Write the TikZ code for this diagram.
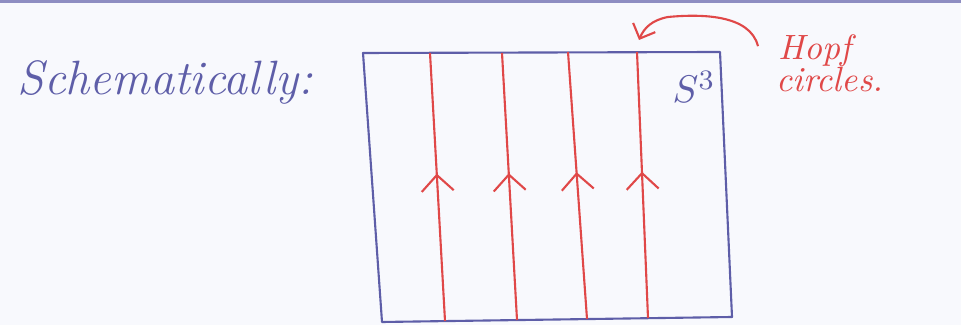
\documentclass[tikz,border=0pt]{standalone}
\usepackage{tikz}
\usetikzlibrary{arrows.meta, decorations.markings}

\definecolor{inkblue}{HTML}{5E5EA8}
\definecolor{inkred}{HTML}{E04848}
\definecolor{paper}{HTML}{F8F9FD}

\begin{document}
\begin{tikzpicture}[
        x=0.01cm, y=-0.01cm,
        sphere/.style={draw=inkblue, line width=0.6pt, line join=round},
        fibre/.style={draw=inkred, line width=0.6pt,
            postaction={decorate},
            decoration={markings, mark=at position 0.55 with {\arrow[inkred, line width=0.6pt]{Straight Barb[length=1.6mm, width=3.2mm]}}}},
        pointer/.style={draw=inkred, line width=0.6pt, -{Straight Barb[length=1.2mm, width=2.4mm]}},
        bluetext/.style={text=inkblue, font=\itshape\fontsize{13.7}{16}\selectfont, inner sep=0pt},
        redtext/.style={text=inkred, font=\itshape\fontsize{10}{12}\selectfont, inner sep=0pt}
    ]
        % Page
        \fill[paper] (0,0) rectangle (961,325);
        \useasboundingbox (0,0) rectangle (961,325);
        \draw[inkblue!70, line width=1pt] (0,1.5) -- (961,1.5);

        % Heading
        \node[bluetext, anchor=base west] (schem) at (17,95) {Schematically:};

        % The box S^3
        \coordinate (tl) at (363,53);
        \coordinate (tr) at (720,52);
        \coordinate (br) at (732,317);
        \coordinate (bl) at (382,322);
        \draw[sphere] (tl) -- (tr) -- (br) -- (bl) -- cycle;
        \node[text=inkblue, font=\fontsize{11}{13}\selectfont, inner sep=0pt, anchor=base west] (sthree) at (672,103) {$S^3$};

        % Fibres (bottom to top)
        \coordinate (b1) at (445,321);
        \coordinate (t1) at (430,53);
        \coordinate (b2) at (517,320);
        \coordinate (t2) at (502,53);
        \coordinate (b3) at (587,319);
        \coordinate (t3) at (568,52);
        \coordinate (b4) at (648,318);
        \coordinate (t4) at (637,52);
        \draw[fibre] (b1) -- (t1);
        \draw[fibre] (b2) -- (t2);
        \draw[fibre] (b3) -- (t3);
        \draw[fibre] (b4) -- (t4);

        % Label
        \node[redtext, anchor=base west] (hopf) at (778,60) {Hopf};
        \node[redtext, anchor=base west] (circles) at (776,92) {circles.};
        \coordinate (tip) at (639,40);
        \draw[pointer] ([xshift=-0.2cm, yshift=0.05cm]hopf.west) .. controls (750,14) and (700,14) .. (668,17) .. controls (652,20) and (644,28) .. (tip);

    \end{tikzpicture}
\end{document}
